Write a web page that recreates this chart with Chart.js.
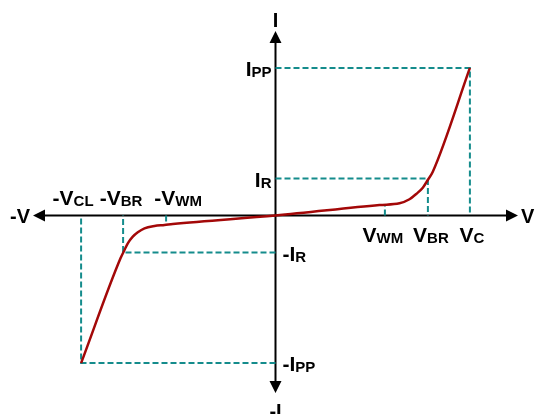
<!DOCTYPE html>
<html>
<head>
<meta charset="utf-8">
<script src="https://cdn.jsdelivr.net/npm/chart.js@4.4.1/dist/chart.umd.min.js"></script>
<style>
html,body{margin:0;padding:0;background:#fff;}
#wrap{width:535px;height:414px;position:relative;}
</style>
</head>
<body>
<div id="wrap"><canvas id="c" width="535" height="414"></canvas></div>
<script>
// ---- characteristic values (arbitrary units) ----
const VWM = 5.47;
const VBR = 7.62;
const VC = 9.72;
const IR = 1.85;
const IPP = 7.38;
const curveAtVWM = [0.52, -0.49]; // curve current at +VWM and -VWM

// ---- I-V curve samples (voltage, current) ----
const curveV = [-9.72, -7.75, -7.55, -7.385, -7.135, -6.885, -6.55, -6.05, -5.55, -5.135, 0, 5.2, 6.2, 6.7, 7.035, 7.365, 7.615, 7.865, 9.72];
const curveI = [-7.38, -2.14, -1.725, -1.39, -1.06, -0.84, -0.64, -0.525, -0.475, -0.425, 0, 0.525, 0.61, 0.81, 1.075, 1.39, 1.775, 2.19, 7.38];

// ---- axis extents ----
const xRange = [-12.125, 12.125];
const yRange = [-8.875, 9.225];

// ---- labels ----
const vLabelsPos = [["V","WM",VWM],["V","BR",VBR],["V","C",VC]];
const vLabelsNeg = [["-V","CL",-VC],["-V","BR",-VBR],["-V","WM",-VWM]];
const iLabelsPos = [["I","PP",IPP],["I","R",IR]];
const iLabelsNeg = [["-I","PP",-IPP],["-I","R",-IR]];

const RED = '#a30808';
const TEAL = '#148c8c';

function pts(xs, ys){ return xs.map((x,i)=>({x:x, y:ys[i]})); }

const guides = [
  [{x:0,y:IPP},{x:VC,y:IPP},{x:VC,y:0}],
  [{x:0,y:IR},{x:VBR,y:IR},{x:VBR,y:0}],
  [{x:VWM,y:0},{x:VWM,y:curveAtVWM[0]}],
  [{x:0,y:-IPP},{x:-VC,y:-IPP},{x:-VC,y:0}],
  [{x:0,y:-IR},{x:-VBR,y:-IR},{x:-VBR,y:0}],
  [{x:-VWM,y:0},{x:-VWM,y:curveAtVWM[1]}]
];

const datasets = [{
  data: pts(curveV, curveI),
  borderColor: RED,
  borderWidth: 2.5,
  pointRadius: 0,
  cubicInterpolationMode: 'monotone',
  fill: false,
  clip: false
}];
guides.forEach(g => datasets.push({
  data: g,
  borderColor: TEAL,
  borderWidth: 2,
  borderDash: [6,3],
  pointRadius: 0,
  tension: 0,
  fill: false,
  clip: false
}));

function drawLabel(ctx, main, sub, x, y, align, mainSize, subSize){
  ctx.save();
  ctx.fillStyle = '#000';
  ctx.textBaseline = 'alphabetic';
  ctx.textAlign = 'left';
  const mf = 'bold ' + mainSize + 'px "Liberation Sans", Arial, sans-serif';
  const sf = 'bold ' + subSize + 'px "Liberation Sans", Arial, sans-serif';
  ctx.font = mf; const wm = ctx.measureText(main).width;
  ctx.font = sf; const ws = sub ? ctx.measureText(sub).width : 0;
  const w = wm + ws;
  let left = x;
  if (align === 'right') left = x - w;
  else if (align === 'center') left = x - w/2;
  ctx.font = mf; ctx.fillText(main, left, y);
  if (sub){ ctx.font = sf; ctx.fillText(sub, left + wm, y + 1); }
  ctx.restore();
}

const axesPlugin = {
  id: 'axesPlugin',
  beforeDatasetsDraw(chart){
    const ctx = chart.ctx;
    const sx = chart.scales.x, sy = chart.scales.y;
    const x0 = sx.getPixelForValue(0), y0 = sy.getPixelForValue(0);
    const xl = sx.getPixelForValue(xRange[0]), xr = sx.getPixelForValue(xRange[1]);
    const yt = sy.getPixelForValue(yRange[1]), yb = sy.getPixelForValue(yRange[0]);
    ctx.save();
    ctx.strokeStyle = '#000';
    ctx.fillStyle = '#000';
    ctx.lineWidth = 2;
    ctx.beginPath();
    ctx.moveTo(xl + 6, y0); ctx.lineTo(xr - 6, y0);
    ctx.moveTo(x0, yt + 6); ctx.lineTo(x0, yb - 6);
    ctx.stroke();
    const L = 12, W = 6;
    ctx.beginPath();
    ctx.moveTo(xr, y0); ctx.lineTo(xr - L, y0 - W); ctx.lineTo(xr - L, y0 + W); ctx.closePath();
    ctx.moveTo(xl, y0); ctx.lineTo(xl + L, y0 - W); ctx.lineTo(xl + L, y0 + W); ctx.closePath();
    ctx.moveTo(x0, yt); ctx.lineTo(x0 - W, yt + L); ctx.lineTo(x0 + W, yt + L); ctx.closePath();
    ctx.moveTo(x0, yb); ctx.lineTo(x0 - W, yb - L); ctx.lineTo(x0 + W, yb - L); ctx.closePath();
    ctx.fill();
    ctx.restore();
  },
  afterDatasetsDraw(chart){
    const ctx = chart.ctx;
    const sx = chart.scales.x, sy = chart.scales.y;
    const x0 = sx.getPixelForValue(0), y0 = sy.getPixelForValue(0);
    const xl = sx.getPixelForValue(xRange[0]), xr = sx.getPixelForValue(xRange[1]);
    const yt = sy.getPixelForValue(yRange[1]), yb = sy.getPixelForValue(yRange[0]);
    // axis labels
    drawLabel(ctx, 'I', '', x0, yt - 4, 'center', 20, 14);
    drawLabel(ctx, '-I', '', x0, yb + 25, 'center', 20, 14);
    drawLabel(ctx, '-V', '', xl - 3, y0 + 7, 'right', 20, 14);
    drawLabel(ctx, 'V', '', xr + 3, y0 + 7, 'left', 20, 14);
    // voltage labels
    const posOff = [-2, 3, 2];
    vLabelsPos.forEach((l,i) => drawLabel(ctx, l[0], l[1], sx.getPixelForValue(l[2]) + posOff[i], y0 + 26, 'center', 21, 15));
    const negOff = [-8, -2, 12];
    vLabelsNeg.forEach((l,i) => drawLabel(ctx, l[0], l[1], sx.getPixelForValue(l[2]) + negOff[i], y0 - 11, 'center', 21, 15));
    // current labels
    iLabelsPos.forEach(l => drawLabel(ctx, l[0], l[1], x0 - 4, sy.getPixelForValue(l[2]) + 8, 'right', 21, 15));
    iLabelsNeg.forEach(l => drawLabel(ctx, l[0], l[1], x0 + 7, sy.getPixelForValue(l[2]) + 8, 'left', 21, 15));
  }
};

new Chart(document.getElementById('c'), {
  type: 'line',
  data: { datasets: datasets },
  options: {
    responsive: false,
    animation: false,
    devicePixelRatio: 1,
    layout: { padding: { left: 33, right: 17, top: 31, bottom: 21 } },
    plugins: { legend: { display: false }, tooltip: { enabled: false } },
    scales: {
      x: { type: 'linear', min: xRange[0], max: xRange[1], display: false },
      y: { type: 'linear', min: yRange[0], max: yRange[1], display: false }
    }
  },
  plugins: [axesPlugin]
});
</script>
</body>
</html>
